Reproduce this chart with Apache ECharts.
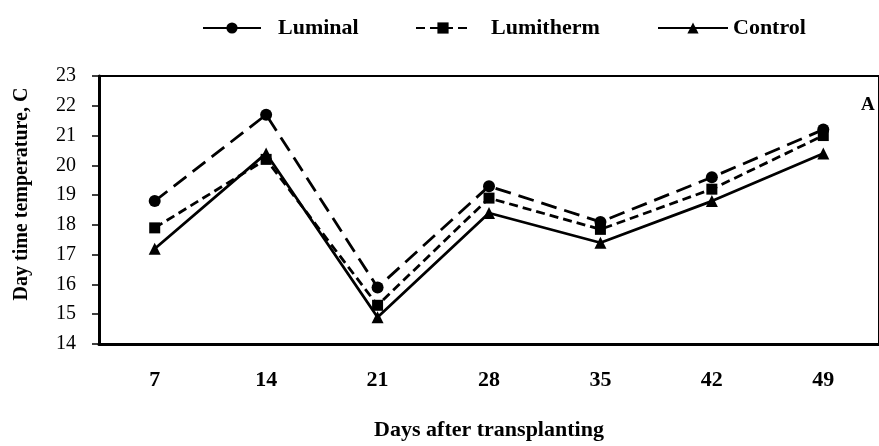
<!DOCTYPE html>
<html>
<head>
<meta charset="utf-8">
<script src="https://cdn.jsdelivr.net/npm/echarts@6/dist/echarts.min.js"></script>
<style>
  html, body { margin: 0; padding: 0; background: #fff; }
  #chart { width: 879px; height: 446px; }
</style>
</head>
<body>
<div id="chart"></div>
<script>
const days = ["7", "14", "21", "28", "35", "42", "49"];
const luminal = [18.8, 21.7, 15.9, 19.3, 18.1, 19.6, 21.2];
const lumitherm = [17.9, 20.2, 15.3, 18.9, 17.85, 19.2, 21.0];
const control = [17.2, 20.4, 14.9, 18.4, 17.4, 18.8, 20.4];

document.addEventListener("DOMContentLoaded", function () {
  const chart = echarts.init(document.getElementById("chart"));
  const font = "Liberation Serif";
  const legendText = { fontFamily: font, fontWeight: "bold", fontSize: 22, color: "#000" };

  // one legend per item so each can sit where it does in the figure
  function legendItem(name, left, width, gap, lineType) {
    const l = {
      top: 12,
      left: left,
      itemWidth: width,
      itemHeight: 14,
      data: [name],
      textStyle: Object.assign({ padding: [0, 0, 0, gap] }, legendText),
    };
    if (lineType) l.lineStyle = { type: lineType };
    return l;
  }

  const option = {
    animation: false,
    backgroundColor: "#fff",
    textStyle: { fontFamily: font, color: "#000" },
    legend: [
      legendItem("Luminal", 197, 58, 12, "solid"),
      legendItem("Lumitherm", 410, 54, 16),
      legendItem("Control", 652, 70, 0),
    ],
    grid: {
      left: 99,
      top: 76,
      bottom: 94,
      right: -13,
      show: true,
      borderColor: "#000",
      borderWidth: 2,
    },
    xAxis: {
      type: "category",
      data: days,
      boundaryGap: true,
      name: "Days after transplanting",
      nameLocation: "middle",
      nameGap: 75,
      nameTextStyle: { fontFamily: font, fontWeight: "bold", fontSize: 22, color: "#000" },
      axisLine: { lineStyle: { color: "#000", width: 3 } },
      axisTick: { length: 7, lineStyle: { color: "#000", width: 1.5 } },
      axisLabel: { margin: 25, fontFamily: font, fontWeight: "bold", fontSize: 22, color: "#000" },
    },
    yAxis: {
      type: "value",
      min: 14,
      max: 23,
      interval: 1,
      name: "Day time temperature, C",
      nameLocation: "middle",
      nameGap: 67,
      nameTextStyle: { fontFamily: font, fontWeight: "bold", fontSize: 20, color: "#000", padding: [0, 0, 0, 32] },
      splitLine: { show: false },
      axisLine: { show: true, lineStyle: { color: "#000", width: 3 } },
      axisTick: { show: true, length: 7, lineStyle: { color: "#000", width: 1.5 } },
      axisLabel: { margin: 23, fontFamily: font, fontSize: 20, color: "#000" },
    },
    graphic: [
      {
        type: "text",
        left: 861,
        top: 96,
        style: { text: "A", font: "bold 19px " + font, fill: "#000" },
      },
    ],
    series: [
      {
        name: "Luminal",
        type: "line",
        data: luminal,
        symbol: "circle",
        symbolSize: 12,
        itemStyle: { color: "#000" },
        lineStyle: { color: "#000", width: 2.8, type: [16, 8] },
      },
      {
        name: "Lumitherm",
        type: "line",
        data: lumitherm,
        symbol: "rect",
        symbolSize: 11,
        itemStyle: { color: "#000" },
        lineStyle: { color: "#000", width: 2.8, type: [9, 5] },
      },
      {
        name: "Control",
        type: "line",
        data: control,
        symbol: "triangle",
        symbolSize: 12,
        itemStyle: { color: "#000" },
        lineStyle: { color: "#000", width: 2.8, type: "solid" },
      },
    ],
  };
  chart.setOption(option);

  window.addEventListener("resize", () => {
    chart.resize();
  });
});
</script>
</body>
</html>
